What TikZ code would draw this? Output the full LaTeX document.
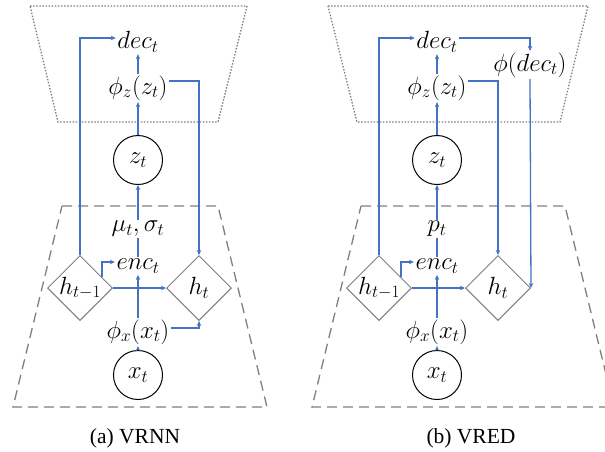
\documentclass[tikz,border=0pt]{standalone}
\usepackage{fontspec}
\setmainfont{Liberation Serif}
\usetikzlibrary{shapes.geometric,arrows.meta,calc}
\definecolor{lineblue}{HTML}{4472C4}
\definecolor{frameg}{HTML}{7F7F7F}
\begin{document}
\begin{tikzpicture}[x=1pt,y=-1pt,
  every node/.style={font=\fontsize{24.5}{26}\selectfont, inner sep=1.5pt},
  arr/.style={draw=lineblue, line width=1.3pt, -{Stealth[length=5pt,width=4.5pt]}},
  ln/.style={draw=lineblue, line width=1.3pt},
  circ/.style={circle, draw=black, line width=1pt, minimum size=49pt, inner sep=0pt},
  dia/.style={diamond, draw=frameg, line width=1pt, minimum width=65pt, minimum height=65pt, inner sep=0pt, aspect=1},
  enctrap/.style={draw=frameg, line width=1.3pt, dash pattern=on 10pt off 6pt},
  dectrap/.style={draw=frameg, line width=1.3pt, dash pattern=on 1.5pt off 1.6pt},
  captext/.style={font=\fontsize{21.5}{23}\selectfont}
]
\useasboundingbox (0,0) rectangle (605,451);
\clip (0,0) rectangle (605,451);

% ---------- (a) VRNN ----------
\draw[dectrap] (30,6) -- (247,6) -- (218,122) -- (58,122) -- cycle;
\draw[enctrap] (62,206) -- (218,206) -- (267,407) -- (13,407) -- cycle;

\node (adec) at (138,42) {$dec_t$};
\node (aphiz) at (138,88) {$\phi_z(z_t)$};
\node[circ] (az) at (138,160) {$z_t$};
\node (amu) at (138,229) {$\mu_t,\sigma_t$};
\node (aenc) at (138,266) {$enc_t$};
\node[dia] (ahp) at (80,288) {$h_{t-1}$};
\node[dia] (ah) at (199,288) {$h_t$};
\node (aphix) at (138,332) {$\phi_x(x_t)$};
\node[circ] (ax) at (138,375) {$x_t$};
\node[captext] (capa) at (135,438) {(a) VRNN};

\draw[arr] (ahp.north) |- ([yshift=4pt]adec.west);
\draw[arr] (aphiz.north) -- (adec.south);
\draw[arr] (az.north) -- (aphiz.south);
\draw[arr] (amu.north) -- (az.south);
\draw[ln] (aenc.north) -- (amu.south);
\draw[arr] (ahp.east) -- (ah.west);
\draw[arr] (aphix.north) -- (aenc.south);
\draw[arr] (ax.north) -- (aphix.south);
\draw[arr] ($(ahp.north)!0.67!(ahp.east)$) |- ([yshift=4pt]aenc.west);
\draw[arr] ([yshift=7pt]aphiz.east) -| (ah.north);
\draw[arr] ([yshift=4pt]aphix.east) -| (ah.south);

% ---------- (b) VRED ----------
\draw[dectrap] (328,6) -- (588,6) -- (560,122) -- (357,122) -- cycle;
\draw[enctrap] (361,206) -- (565,206) -- (614,407) -- (312,407) -- cycle;

\node (bdec) at (437,42) {$dec_t$};
\node (bphid) at (530,65) {$\phi(dec_t)$};
\node (bphiz) at (437,88) {$\phi_z(z_t)$};
\node[circ] (bz) at (437,160) {$z_t$};
\node (bp) at (437,229) {$p_t$};
\node (benc) at (437,266) {$enc_t$};
\node[dia] (bhp) at (379,288) {$h_{t-1}$};
\node[dia] (bh) at (498,288) {$h_t$};
\node (bphix) at (437,332) {$\phi_x(x_t)$};
\node[circ] (bx) at (437,375) {$x_t$};
\node[captext] (capb) at (471,438) {(b) VRED};

\draw[arr] (bhp.north) |- ([yshift=4pt]bdec.west);
\draw[arr] ([yshift=4pt]bdec.east) -| (bphid.north);
\draw[arr] (bphid.south) -- (bh.east);
\draw[arr] (bphiz.north) -- (bdec.south);
\draw[arr] (bz.north) -- (bphiz.south);
\draw[arr] (bp.north) -- (bz.south);
\draw[ln] (benc.north) -- (bp.south);
\draw[arr] (bhp.east) -- (bh.west);
\draw[arr] (bphix.north) -- (benc.south);
\draw[arr] (bx.north) -- (bphix.south);
\draw[arr] ($(bhp.north)!0.67!(bhp.east)$) |- ([yshift=4pt]benc.west);
\draw[arr] ([yshift=7pt]bphiz.east) -| (bh.north);
\end{tikzpicture}
\end{document}
